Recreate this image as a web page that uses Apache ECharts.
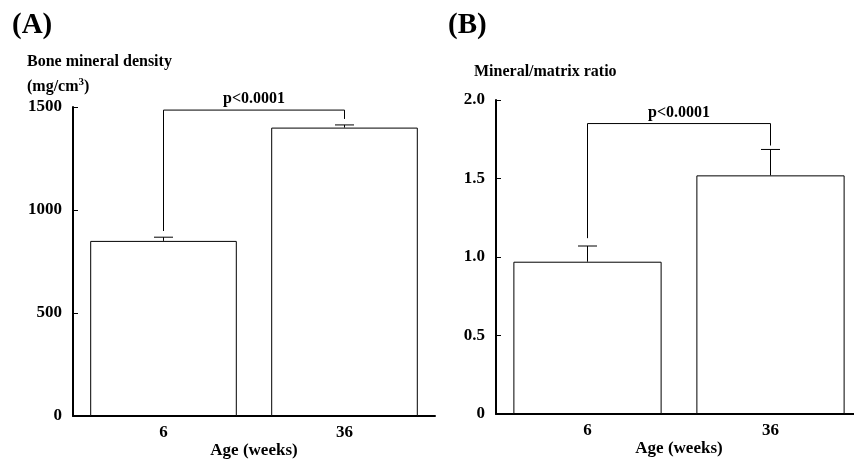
<!DOCTYPE html>
<html>
<head>
<meta charset="utf-8">
<script src="https://cdn.jsdelivr.net/npm/echarts@6/dist/echarts.min.js"></script>
<style>
  html, body { margin: 0; padding: 0; background: #fff; }
  #main { width: 854px; height: 460px; }
</style>
</head>
<body>
<div id="main"></div>
<script>
// data
var categories = ['6', '36'];
var bmdValues = [850, 1400];        // mg/cm3
var bmdErrors = [18, 13];
var ratioValues = [0.97, 1.52];     // mineral/matrix ratio
var ratioErrors = [0.10, 0.165];
// bracket: [left leg bottom, top, right leg bottom]
var bmdBracket = [898, 1485, 1442];
var ratioBracket = [1.12, 1.85, 1.71];
var pText = 'p<0.0001';

var FONT = '"Liberation Serif", "Times New Roman", serif';

var myChart = echarts.init(document.getElementById('main'));

// measure text width for the superscript unit label
var ctx = document.createElement('canvas').getContext('2d');
function textW(str, font) {
    ctx.font = font;
    return ctx.measureText(str).width;
}

function errItem(params, api) {
    var x = api.value(0);
    var v = api.value(1);
    var e = api.value(2);
    var base = api.coord([x, v]);
    var top = api.coord([x, v + e]);
    return {
        type: 'group',
        children: [
            { type: 'line', shape: { x1: base[0], y1: base[1], x2: top[0], y2: top[1] }, style: { stroke: '#000', lineWidth: 1 } },
            { type: 'line', shape: { x1: top[0] - 9.5, y1: top[1], x2: top[0] + 9.5, y2: top[1] }, style: { stroke: '#000', lineWidth: 1 } }
        ]
    };
}

function bracketItem(params, api) {
    var l0 = api.coord([0, api.value(2)]);
    var top0 = api.coord([0, api.value(1)]);
    var top1 = api.coord([1, api.value(1)]);
    var r1 = api.coord([1, api.value(3)]);
    return {
        type: 'group',
        children: [
            { type: 'polyline', shape: { points: [l0, top0, top1, r1] }, style: { stroke: '#000', lineWidth: 1, fill: null } },
            { type: 'text', style: { text: pText, x: (top0[0] + top1[0]) / 2, y: top0[1] - 11, align: 'center', verticalAlign: 'middle', font: 'bold 16px ' + FONT, fill: '#000' } }
        ]
    };
}

function xAxisOf(gi) {
    return {
        gridIndex: gi,
        type: 'category',
        data: categories,
        boundaryGap: true,
        name: 'Age (weeks)',
        nameLocation: 'middle',
        nameGap: 26,
        nameMoveOverlap: false,
        nameTextStyle: { fontFamily: FONT, fontWeight: 'bold', fontSize: 17, color: '#000', verticalAlign: 'top' },
        axisLine: { lineStyle: { color: '#000', width: 2 } },
        axisTick: { inside: true, length: 5, lineStyle: { color: '#000', width: 1 } },
        axisLabel: { fontFamily: FONT, fontWeight: 'bold', fontSize: 17, color: '#000', margin: 8 },
        splitLine: { show: false }
    };
}

function yAxisOf(gi, max, interval, fmt) {
    return {
        gridIndex: gi,
        type: 'value',
        min: 0,
        max: max,
        interval: interval,
        axisLine: { show: true, lineStyle: { color: '#000', width: 2 } },
        axisTick: { show: true, inside: true, length: 5, lineStyle: { color: '#000', width: 1 } },
        axisLabel: { fontFamily: FONT, fontWeight: 'bold', fontSize: 17, color: '#000', margin: 11, formatter: fmt },
        splitLine: { show: false }
    };
}

var barStyle = { color: '#fff', borderColor: '#000', borderWidth: 1 };

var unitFont = 'bold 16px ' + FONT;
var supFont = 'bold 11px ' + FONT;
var unitX = 27;
var w1 = textW('(mg/cm', unitFont);
var w2 = textW('3', supFont);

var option = {
    backgroundColor: '#fff',
    animation: false,
    grid: [
        { left: 73, right: 419, top: 107, bottom: 44, outerBoundsMode: 'none' },
        { left: 496, right: -8, top: 100, bottom: 46, outerBoundsMode: 'none' }
    ],
    xAxis: [xAxisOf(0), xAxisOf(1)],
    yAxis: [
        yAxisOf(0, 1500, 500, function (v) { return String(v); }),
        yAxisOf(1, 2, 0.5, function (v) { return v === 0 ? '0' : v.toFixed(1); })
    ],
    graphic: [
        { type: 'text', style: { text: '(A)', x: 12, y: 26, verticalAlign: 'middle', font: 'bold 29px ' + FONT, fill: '#000' } },
        { type: 'text', style: { text: '(B)', x: 448, y: 26, verticalAlign: 'middle', font: 'bold 29px ' + FONT, fill: '#000' } },
        { type: 'text', style: { text: 'Bone mineral density', x: 27, y: 62, verticalAlign: 'middle', font: 'bold 16px ' + FONT, fill: '#000' } },
        { type: 'text', style: { text: '(mg/cm', x: unitX, y: 87, verticalAlign: 'middle', font: unitFont, fill: '#000' } },
        { type: 'text', style: { text: '3', x: unitX + w1, y: 82, verticalAlign: 'middle', font: supFont, fill: '#000' } },
        { type: 'text', style: { text: ')', x: unitX + w1 + w2, y: 87, verticalAlign: 'middle', font: unitFont, fill: '#000' } },
        { type: 'text', style: { text: 'Mineral/matrix ratio', x: 474, y: 72, verticalAlign: 'middle', font: 'bold 16px ' + FONT, fill: '#000' } }
    ],
    series: [
        { type: 'bar', xAxisIndex: 0, yAxisIndex: 0, data: bmdValues, barCategoryGap: '19%', itemStyle: barStyle, silent: true },
        { type: 'bar', xAxisIndex: 1, yAxisIndex: 1, data: ratioValues, barCategoryGap: '19%', itemStyle: barStyle, silent: true },
        {
            type: 'custom', xAxisIndex: 0, yAxisIndex: 0, renderItem: errItem, encode: { x: 0, y: 1 }, z: 5,
            data: bmdValues.map(function (v, i) { return [i, v, bmdErrors[i]]; })
        },
        {
            type: 'custom', xAxisIndex: 1, yAxisIndex: 1, renderItem: errItem, encode: { x: 0, y: 1 }, z: 5,
            data: ratioValues.map(function (v, i) { return [i, v, ratioErrors[i]]; })
        },
        {
            type: 'custom', xAxisIndex: 0, yAxisIndex: 0, renderItem: bracketItem, encode: { x: 0, y: 1 }, z: 5,
            data: [[0, bmdBracket[1], bmdBracket[0], bmdBracket[2]]]
        },
        {
            type: 'custom', xAxisIndex: 1, yAxisIndex: 1, renderItem: bracketItem, encode: { x: 0, y: 1 }, z: 5,
            data: [[0, ratioBracket[1], ratioBracket[0], ratioBracket[2]]]
        }
    ]
};

myChart.setOption(option);
</script>
</body>
</html>
